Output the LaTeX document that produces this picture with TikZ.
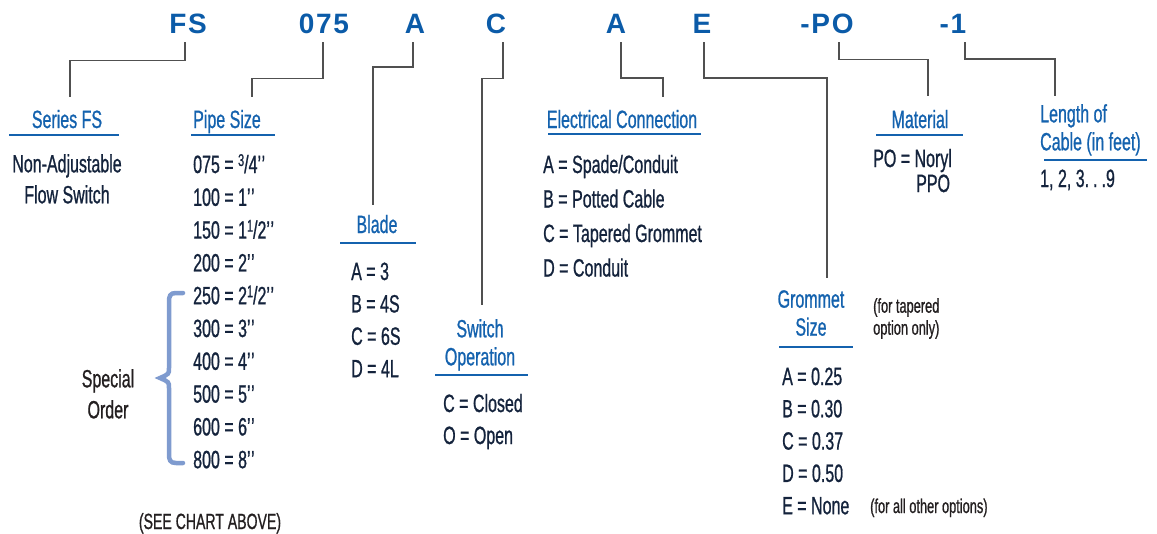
\documentclass[tikz,border=0pt]{standalone}
\usepackage{fontspec}
\setmainfont[FakeStretch=0.64, FakeBold=0.8]{Liberation Sans}
\newfontfamily\codefont[LetterSpace=6]{Liberation Sans}

\definecolor{codeblue}{HTML}{0B5BA8}
\definecolor{headblue}{HTML}{1462AE}
\definecolor{rulegray}{HTML}{505050}
\definecolor{entrynavy}{HTML}{14233C}
\definecolor{notegray}{HTML}{231F20}
\definecolor{bracecol}{HTML}{7F9BCF}

\newcommand{\inch}{\char39\kern0.5pt\char39}
\newcommand{\sups}[1]{\raisebox{7pt}{\fontsize{17}{17}\selectfont #1}}

\tikzset{
  codetag/.style={font=\codefont\bfseries\fontsize{28}{28}\selectfont, text=codeblue, inner sep=0pt, anchor=base},
  heading/.style={font=\fontsize{25}{28}\selectfont, text=headblue, inner sep=0pt, align=center},
  entry/.style={font=\fontsize{25}{29}\selectfont, text=entrynavy, inner sep=0pt, anchor=base west},
  remark/.style={font=\fontsize{25}{31}\selectfont, text=notegray, inner sep=0pt, align=center},
  smallnote/.style={font=\fontsize{20}{22}\selectfont, text=notegray, inner sep=0pt, align=left},
  leader/.style={draw=rulegray, line width=1.5pt},
  underrule/.style={draw=headblue, line width=1.5pt},
}

\begin{document}
\begin{tikzpicture}[x=1pt, y=-1pt]
    \useasboundingbox (0,0) rectangle (1157,533);

    % model code
    \node[codetag] (cFS) at (188,33) {FS};
    \node[codetag] (cSize) at (324,33) {075};
    \node[codetag] (cBlade) at (415,33) {A};
    \node[codetag] (cSwitch) at (496,33) {C};
    \node[codetag] (cConn) at (616,33) {A};
    \node[codetag] (cGrom) at (702,33) {E};
    \node[codetag] (cMat) at (827,33) {-PO};
    \node[codetag] (cLen) at (953,33) {-1};

    % headings
    \node[heading, anchor=base] (tFS) at (67,128) {Series FS};
    \node[heading, anchor=base west] (tSize) at (193,128) {Pipe Size};
    \node[heading, anchor=base] (tBlade) at (377,233) {Blade};
    \node[heading, anchor=north] (tSwitch) at (480,319) {Switch\\Operation};
    \node[heading, anchor=base] (tConn) at (622,128) {Electrical Connection};
    \node[heading, anchor=north] (tGrom) at (811,290) {Grommet\\Size};
    \node[heading, anchor=base] (tMat) at (920,128) {Material};
    \node[heading, anchor=north west, align=left] (tLen) at (1040,104) {Length of\\Cable (in feet)};

    \draw[underrule] (9,135) -- (119,135);
    \draw[underrule] (191,135) -- (275,135);
    \draw[underrule] (340,243) -- (416,243);
    \draw[underrule] (435,375) -- (528,375);
    \draw[underrule] (548,134) -- (701,134);
    \draw[underrule] (779,347) -- (853,347);
    \draw[underrule] (876,135) -- (963,135);
    \draw[underrule] (1044,160) -- (1147,160);

    % leaders from code to heading
    \draw[leader] ([xshift=-3pt,yshift=-9pt]cFS.south) -- ++(0,18) -| ([xshift=3pt,yshift=13pt]tFS.north);
    \draw[leader] ([xshift=-1pt,yshift=-9pt]cSize.south) -- ++(0,36) -| ([xshift=59pt,yshift=13pt]tSize.north west);
    \draw[leader] ([xshift=-2pt,yshift=-9pt]cBlade.south) -- ++(0,25) -| ([xshift=-4pt,yshift=10pt]tBlade.north);
    \draw[leader] ([xshift=7pt,yshift=-9pt]cSwitch.south) -- ++(0,36) -| ([xshift=2pt,yshift=14pt]tSwitch.north);
    \draw[leader] ([xshift=5pt,yshift=-9pt]cConn.south) -- ++(0,36) -| ([xshift=41pt,yshift=13pt]tConn.north);
    \draw[leader] ([xshift=2pt,yshift=-9pt]cGrom.south) -- ++(0,36) -| ([xshift=16pt,yshift=12pt]tGrom.north);
    \draw[leader] ([xshift=12pt,yshift=-9pt]cMat.south) -- ++(0,17) -| ([xshift=8pt,yshift=14pt]tMat.north);
    \draw[leader] ([xshift=12pt,yshift=-9pt]cLen.south) -- ++(0,17) -| ([xshift=15pt,yshift=8pt]tLen.north west);

    % series
    \node[remark, anchor=north, text=entrynavy] (flow) at (67,154) {Non-Adjustable\\Flow Switch};

    % pipe sizes
    \foreach \txt [count=\i] in {{075 = \sups{3}/4\inch}, {100 = 1\inch}, {150 = 1\sups{1}/2\inch},
        {200 = 2\inch}, {250 = 2\sups{1}/2\inch}, {300 = 3\inch}, {400 = 4\inch},
        {500 = 5\inch}, {600 = 6\inch}, {800 = 8\inch}}
        \node[entry] (size\i) at (193,{173+(\i-1)*32.8}) {\txt};
    \draw[bracecol, line width=4.5pt, line cap=round]
        (183,293) -- (176,293) .. controls (170,293) and (169,296) .. (169,302) -- (169,368)
        .. controls (169,374) .. (160,378) .. controls (169,382) .. (169,388) -- (169,454)
        .. controls (169,460) and (170,463) .. (176,463) -- (183,463);
    \node[remark, anchor=north] (special) at (108,369) {Special\\Order};
    \node[remark, anchor=base, font=\fontsize{22}{26}\selectfont] (chart) at (210,529) {(SEE CHART ABOVE)};

    % blade
    \foreach \txt [count=\i] in {A = 3, B = 4S, C = 6S, D = 4L}
        \node[entry] (blade\i) at (351,{280+(\i-1)*32.4}) {\txt};

    % switch operation
    \node[entry] (switch1) at (443,412) {C = Closed};
    \node[entry] (switch2) at (443,444) {O = Open};

    % electrical connection
    \foreach \txt [count=\i] in {A = Spade/Conduit, B = Potted Cable, C = Tapered Grommet, D = Conduit}
        \node[entry] (conn\i) at (543,{173+(\i-1)*34.5}) {\txt};

    % grommet size
    \foreach \txt [count=\i] in {A = 0.25, B = 0.30, C = 0.37, D = 0.50, E = None}
        \node[entry] (grom\i) at (782,{385+(\i-1)*32.3}) {\txt};
    \node[smallnote, anchor=north west] (tapered) at (873,298) {(for tapered\\option only)};
    \node[smallnote, anchor=base west] (others) at (870,513) {(for all other options)};

    % material
    \node[entry] (mat1) at (873,167) {PO = Noryl};
    \node[entry] (mat2) at (916,192) {PPO};

    % cable length
    \node[entry] (len1) at (1040,187) {1, 2, 3.\kern4pt.\kern4pt.9};
\end{tikzpicture}
\end{document}
